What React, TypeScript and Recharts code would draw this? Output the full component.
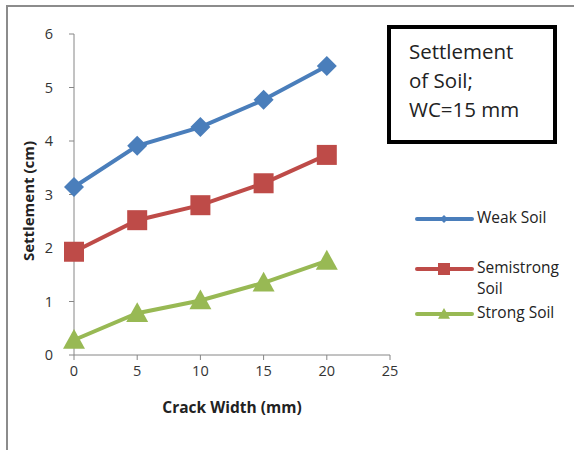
import React from 'react';
import { LineChart, Line, XAxis, YAxis, Label } from 'recharts';

const crackWidth = [0, 5, 10, 15, 20];
const weakSoil = [3.14, 3.91, 4.26, 4.77, 5.4];
const semistrongSoil = [1.93, 2.52, 2.8, 3.21, 3.74];
const strongSoil = [0.28, 0.78, 1.02, 1.35, 1.76];
const xTicks = [0, 5, 10, 15, 20, 25];
const yTicks = [0, 1, 2, 3, 4, 5, 6];

const BLUE = '#4a7ebb';
const RED = '#be4b48';
const GREEN = '#98b954';
const FONT = '"Open Sans", "DejaVu Sans", sans-serif';

const data = crackWidth.map((x, i) => ({
  x,
  weak: weakSoil[i],
  semi: semistrongSoil[i],
  strong: strongSoil[i],
}));

const series = [
  { key: 'weak', name: 'Weak Soil', color: BLUE, shape: 'diamond' },
  { key: 'semi', name: 'Semistrong Soil', color: RED, shape: 'square' },
  { key: 'strong', name: 'Strong Soil', color: GREEN, shape: 'triangle' },
];

const Marker = ({ cx, cy, shape, color, r }: any) => {
  if (cx == null || cy == null) return null;
  if (shape === 'diamond') {
    return <path d={`M${cx},${cy - r} L${cx + r},${cy} L${cx},${cy + r} L${cx - r},${cy} Z`} fill={color} />;
  }
  if (shape === 'square') {
    return <rect x={cx - r} y={cy - r} width={r * 2} height={r * 2} fill={color} />;
  }
  return <path d={`M${cx},${cy - r} L${cx + r},${cy + r * 0.8} L${cx - r},${cy + r * 0.8} Z`} fill={color} />;
};

const markerSize: Record<string, number> = { diamond: 10, square: 10, triangle: 11 };
const legendMarkerSize: Record<string, number> = { diamond: 4, square: 6, triangle: 6 };

const XTick = ({ x, y, payload }: any) => (
  <text x={x} y={y + 13} textAnchor="middle" fontSize={14.5} fontFamily={FONT} fill="#333">
    {payload.value}
  </text>
);
const YTick = ({ x, y, payload }: any) => (
  <text x={x - 12} y={y + 5} textAnchor="end" fontSize={14.5} fontFamily={FONT} fill="#333">
    {payload.value}
  </text>
);

const App = () => {
  return (
    <div style={{ position: 'absolute', left: 0, top: 0, width: 574, height: 450, background: '#fff', overflow: 'hidden' }}>
      {/* outer frame */}
      <div style={{ position: 'absolute', left: 6, top: 5, width: 580, height: 460, borderLeft: '2px solid #8c8c8c', borderTop: '2px solid #8c8c8c' }} />
      <LineChart
        width={574}
        height={450}
        data={data}
        margin={{ top: 34, right: 184, bottom: 0, left: 0 }}
        style={{ position: 'absolute', left: 0, top: 0 }}
      >
        <XAxis
          dataKey="x"
          type="number"
          domain={[0, 25]}
          ticks={xTicks}
          height={95}
          stroke="#868686"
          tickSize={5}
          tickMargin={3}
          tick={<XTick />}
        >
          <Label value="Crack Width (mm)" position="insideTop" offset={47} style={{ fill: '#222', fontSize: 15.5, fontWeight: 'bold', fontFamily: FONT }} />
        </XAxis>
        <YAxis
          type="number"
          domain={[0, 6]}
          ticks={yTicks}
          width={74}
          stroke="#868686"
          tickSize={5}
          tickMargin={4}
          tick={<YTick />}
        >
          <Label
            content={() => (
              <text transform="translate(34,201) rotate(-90)" textAnchor="middle" fontSize={15} fontWeight="bold" fontFamily={FONT} fill="#222">
                Settlement (cm)
              </text>
            )}
          />
        </YAxis>
        {series.map((s) => (
          <Line
            key={s.key}
            dataKey={s.key}
            name={s.name}
            stroke={s.color}
            strokeWidth={4}
            isAnimationActive={false}
            dot={(p: any) => <Marker key={`${s.key}-${p.index}`} cx={p.cx} cy={p.cy} shape={s.shape} color={s.color} r={markerSize[s.shape]} />}
            activeDot={false}
          />
        ))}
      </LineChart>
      {/* title box */}
      <div
        style={{
          position: 'absolute',
          left: 387,
          top: 25,
          width: 170,
          height: 119,
          border: '4px solid #000',
          boxSizing: 'border-box',
        }}
      >
        <div style={{ position: 'absolute', left: 18, top: 8, width: 150, fontFamily: FONT, fontSize: 20.5, lineHeight: '29px', color: '#222' }}>
          Settlement<br />of Soil;<br />WC=15 mm
        </div>
      </div>
      {/* legend */}
      <svg style={{ position: 'absolute', left: 410, top: 200 }} width={164} height={130}>
        {[
          { s: series[0], y: 19, lines: ['Weak Soil'] },
          { s: series[1], y: 69, lines: ['Semistrong', 'Soil'] },
          { s: series[2], y: 114, lines: ['Strong Soil'] },
        ].map(({ s, y, lines }) => (
          <g key={s.key}>
            <line x1={7} x2={62} y1={y} y2={y} stroke={s.color} strokeWidth={4} strokeLinecap="round" />
            <Marker cx={34} cy={y} shape={s.shape} color={s.color} r={legendMarkerSize[s.shape]} />
            {lines.map((t, i) => (
              <text key={t} x={67} y={y + 4 + i * 21} fontSize={15.5} fontFamily={FONT} fill="#222">
                {t}
              </text>
            ))}
          </g>
        ))}
      </svg>
    </div>
  );
};

export default App;
